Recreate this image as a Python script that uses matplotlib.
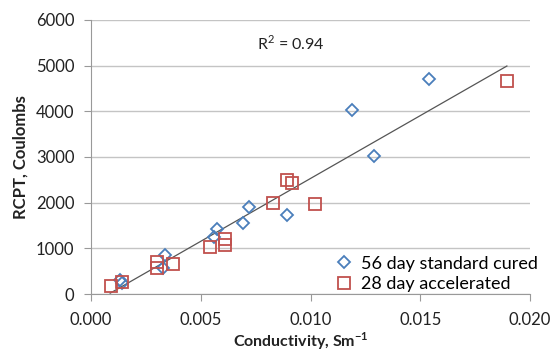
import matplotlib.pyplot as plt

# 56 day standard cured (blue diamonds)
std_cond = [0.00132, 0.00140, 0.00335, 0.00330, 0.00574, 0.00560, 0.00693, 0.00720,
            0.00893, 0.01189, 0.01290, 0.01540]
std_rcpt = [306, 250, 850, 580, 1420, 1250, 1560, 1905,
            1730, 4026, 3020, 4700]

# 28 day accelerated (red squares)
acc_cond = [0.00091, 0.00140, 0.00300, 0.00300, 0.00374, 0.00540, 0.00610, 0.00610,
            0.00830, 0.00893, 0.00916, 0.01020, 0.01895]
acc_rcpt = [175, 263, 710, 560, 656, 1030, 1200, 1070,
            1990, 2500, 2420, 1970, 4670]

# linear trendline
trend_slope = 275000
trend_intercept = -220
trend_x = [0.00087, 0.01895]

x_ticks = [0.000, 0.005, 0.010, 0.015, 0.020]
y_ticks = [0, 1000, 2000, 3000, 4000, 5000, 6000]

plt.rcParams['font.family'] = ['Lato', 'DejaVu Sans']

fig = plt.figure(figsize=(5.52, 3.56), dpi=100, facecolor="w")
ax = fig.add_axes([0.165, 0.174, 0.795, 0.770])

ax.set_axisbelow(True)
ax.grid(axis="y", color="#c4c4c4", linewidth=1.0)

ax.plot(trend_x, [trend_slope * x + trend_intercept for x in trend_x],
        color="#555555", linewidth=0.9, zorder=2)
ax.plot(std_cond, std_rcpt, linestyle="none", marker="D", markersize=6.5,
        markerfacecolor="none", markeredgecolor="#4a7ebb", markeredgewidth=1.3,
        label="56 day standard cured", zorder=3)
ax.plot(acc_cond, acc_rcpt, linestyle="none", marker="s", markersize=9,
        markerfacecolor="none", markeredgecolor="#c0504d", markeredgewidth=1.3,
        label="28 day accelerated", zorder=3)

ax.set_xlim(0, 0.020)
ax.set_ylim(0, 6000)
ax.set_xticks(x_ticks)
ax.set_xticklabels([f"{v:.3f}" for v in x_ticks])
ax.set_yticks(y_ticks)

for side in ["top", "right"]:
    ax.spines[side].set_visible(False)
for side in ["left", "bottom"]:
    ax.spines[side].set_color("#999999")
ax.tick_params(axis="both", colors="#999999", labelcolor="#222222",
               labelsize=12, length=5, direction="out")
ax.tick_params(axis="x", pad=8)
ax.tick_params(axis="y", pad=7)

ax.set_xlabel("Conductivity, Sm$^{\\mathregular{-1}}$", fontsize=11.5, fontweight="bold",
              color="#222222", labelpad=2, x=0.477)
ax.set_ylabel("RCPT, Coulombs", fontsize=12, fontweight="bold", color="#222222",
              labelpad=5)

ax.text(0.456, 0.916, "R$^{\\mathregular{2}}$ = 0.94", transform=ax.transAxes,
        fontsize=11.5, color="#222222", ha="center", va="center")

ax.legend(loc="lower right", frameon=False, fontsize=13, handletextpad=0.35,
          labelspacing=0.25, borderaxespad=0.0, handlelength=1.2,
          bbox_to_anchor=(1.035, -0.02))

fig.savefig("out.png", dpi=100)
